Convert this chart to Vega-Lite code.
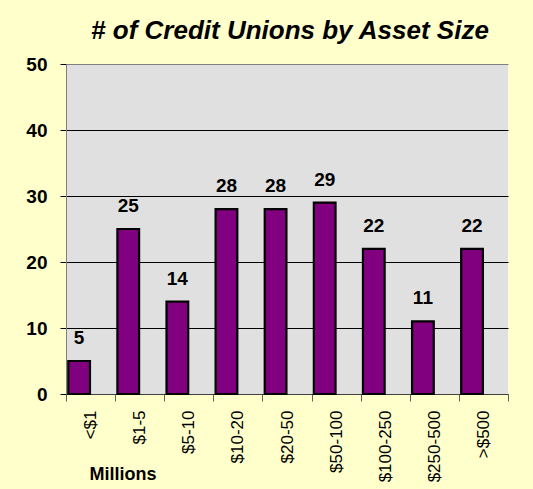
{
  "$schema": "https://vega.github.io/schema/vega-lite/v6.json",
  "autosize": "none",
  "width": 442,
  "height": 330,
  "padding": {"left": 66, "top": 64, "right": 25, "bottom": 95},
  "background": "#FFFFCC",
  "title": {
    "text": "# of Credit Unions by Asset Size",
    "font": "Liberation Sans",
    "fontSize": 26,
    "fontWeight": "bold",
    "fontStyle": "italic",
    "color": "black",
    "anchor": "middle",
    "baseline": "alphabetic",
    "offset": 14,
    "dy": 24,
    "dx": 3
  },
  "config": {
    "view": {"stroke": null, "fill": "#E0E0E0"},
    "font": "Liberation Sans"
  },
  "data": {
    "values": [
      {"size": "<$1", "count": 5, "s": "a"},
      {"size": "$1-5", "count": 25, "s": "a"},
      {"size": "$5-10", "count": 14, "s": "a"},
      {"size": "$10-20", "count": 28, "s": "a"},
      {"size": "$20-50", "count": 28, "s": "a"},
      {"size": "$50-100", "count": 29, "s": "a"},
      {"size": "$100-250", "count": 22, "s": "a"},
      {"size": "$250-500", "count": 11, "s": "a"},
      {"size": ">$500", "count": 22, "s": "a"}
    ]
  },
  "encoding": {
    "x": {
      "field": "size",
      "type": "nominal",
      "sort": null,
      "scale": {"paddingInner": 0, "paddingOuter": 0},
      "axis": {
        "title": "Millions",
        "titleFont": "Liberation Sans",
        "titleFontSize": 18,
        "titleFontWeight": "bold",
        "titleColor": "black",
        "titleAnchor": "start",
        "titleAlign": "left",
        "titleBaseline": "alphabetic",
        "titleX": 23,
        "titleY": 85,
        "tickBand": "extent",
        "tickSize": 7,
        "tickColor": "#606060",
        "domainColor": "#404040",
        "labelAngle": -90,
        "labelFont": "Liberation Sans",
        "labelFontSize": 17,
        "labelColor": "black",
        "labelPadding": 9,
        "grid": false
      }
    },
    "xOffset": {
      "field": "s",
      "type": "nominal",
      "scale": {"domain": ["a", "b"], "paddingInner": 0.05, "paddingOuter": 0.1}
    },
    "y": {
      "field": "count",
      "type": "quantitative",
      "scale": {"domain": [0, 50], "nice": false},
      "axis": {
        "title": null,
        "values": [0, 10, 20, 30, 40, 50],
        "grid": true,
        "gridColor": {"condition": {"test": "datum.value == 50", "value": "#808080"}, "value": "black"},
        "gridWidth": 1,
        "tickColor": "black",
        "tickSize": 6,
        "domainColor": "#808080",
        "labelFont": "Liberation Sans",
        "labelFontSize": 19,
        "labelFontWeight": "bold",
        "labelColor": "black",
        "labelPadding": 13
      }
    }
  },
  "layer": [
    {
      "mark": {"type": "bar", "color": "#800080", "stroke": "black", "strokeWidth": 2.2}
    },
    {
      "mark": {"type": "text", "fontSize": 19, "fontWeight": "bold", "baseline": "alphabetic", "align": "center", "dy": -17, "color": "black"},
      "encoding": {"text": {"field": "count", "type": "quantitative"}}
    }
  ]
}
